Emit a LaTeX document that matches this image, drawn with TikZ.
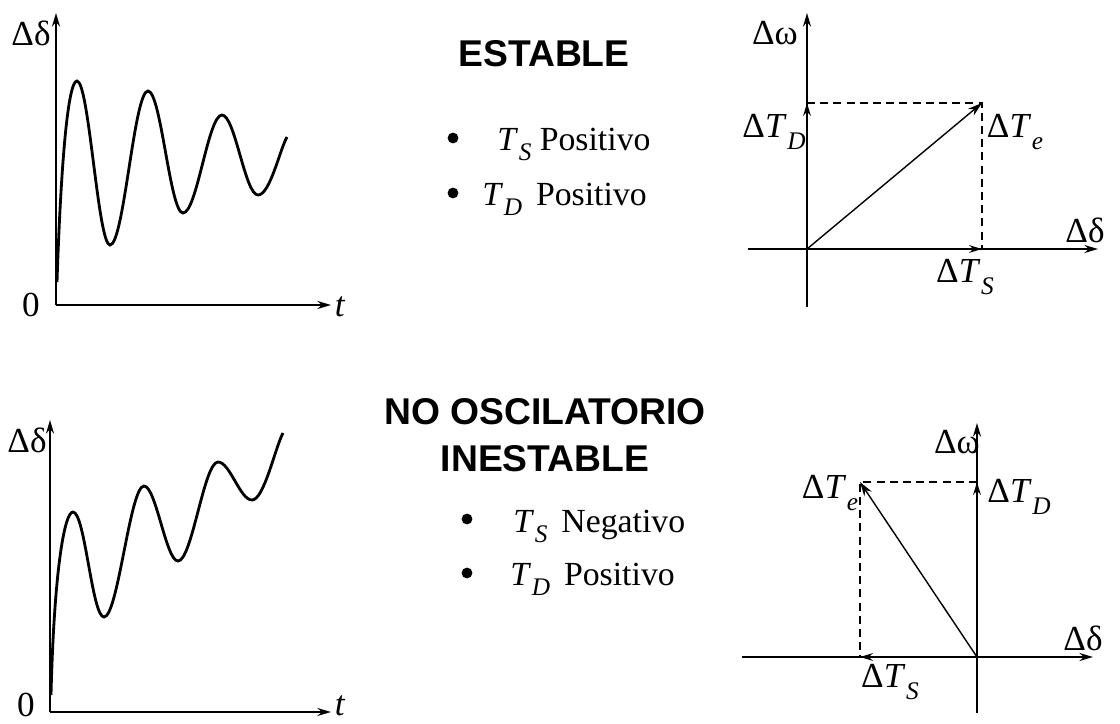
\documentclass[tikz,border=0pt]{standalone}
\usepackage{fontspec}
\setmainfont{Liberation Serif}
\newfontfamily\headfont{Liberation Sans}
\usetikzlibrary{arrows.meta}
\newcommand{\Tsub}[1]{\textit{T}\kern0.5pt\raisebox{-0.32em}{\fontsize{18}{18}\selectfont\textit{#1}}}

\begin{document}
\begin{tikzpicture}[x=0.025cm,y=-0.025cm,lbl/.style={inner sep=0pt,font=\fontsize{25}{28}\selectfont},head/.style={align=center,font=\headfont\bfseries\fontsize{26.5}{33}\selectfont},item/.style={anchor=base west,inner sep=0pt,font=\fontsize{24}{28}\selectfont},dot/.style={circle,fill,inner sep=0pt,minimum size=2.7mm},axis/.style={line width=1.4pt,-{Stealth[length=3.4mm,width=2mm]}},curve/.style={line width=2pt},vec/.style={line width=1pt,-{Stealth[length=3.6mm,width=2.2mm]}},comp/.style={line width=1.5pt,-{Stealth[length=3.2mm,width=1.9mm]}},proj/.style={line width=1.5pt,dash pattern=on 2mm off 1.3mm}]
\useasboundingbox (0,0) rectangle (1120,724);
% stable case: time response
\coordinate (o1) at (56,305);\coordinate (ya1) at (56,13);\coordinate (xa1) at (331,305);
\draw[axis] (o1)--(ya1);\draw[axis] (o1)--(xa1);
\node[lbl] (dd1) at (31,33) {Δδ};
\node[lbl] (zero1) at (31,305) {0};
\node[lbl] (t1) at (340,307) {\textit{t}};
\draw[curve] (57,282) .. controls +(4,-120) and +(-9,0) .. (77,81) .. controls +(12,0) and +(-12,0) .. (110,245) .. controls +(14,0) and +(-14,0) .. (148,91) .. controls +(13,0) and +(-13,0) .. (183,213) .. controls +(14,0) and +(-14,0) .. (222,115) .. controls +(13,0) and +(-13,0) .. (258,195) .. controls +(12,0) and +(-7,12) .. (287,137);
% stable case: text
\node[head] (stable) at (544,54) {ESTABLE};
\node[dot] (b1) at (453,138) {};
\node[item] (ts1) at (497,150) {\Tsub{S} Positivo};
\node[dot] (b2) at (453,193) {};
\node[item] (td1) at (482,205) {\Tsub{D}\,\ Positivo};
% stable case: phasors
\coordinate (p1) at (807,249);
\coordinate (hl1) at (748,249);\coordinate (hr1) at (1098,249);
\coordinate (vb1) at (807,307);\coordinate (vt1) at (807,13);
\coordinate (te1) at (982,103);\coordinate (cd1) at (807,103);\coordinate (cs1) at (982,249);
\draw[axis] (hl1)--(hr1);\draw[axis] (vb1)--(vt1);
\draw[proj] (cd1)--(te1)--(cs1);
\draw[comp] (p1)--(cd1);\draw[comp] (p1)--(cs1);
\draw[vec] (p1)--(te1);
\node[lbl] (w1) at (775,33) {Δω};
\node[lbl] (dr1) at (1085,230) {Δδ};
\node[lbl] (ltd1) at (774,132) {Δ\Tsub{D}};
\node[lbl] (lte1) at (1015,132) {Δ\Tsub{e}};
\node[lbl] (lts1) at (965,277) {Δ\Tsub{S}};
% unstable case: time response
\coordinate (o2) at (50,712);\coordinate (ya2) at (50,420);\coordinate (xa2) at (331,712);
\draw[axis] (o2)--(ya2);\draw[axis] (o2)--(xa2);
\node[lbl] (dd2) at (27,440) {Δδ};
\node[lbl] (zero2) at (26,705) {0};
\node[lbl] (t2) at (340,706) {\textit{t}};
\draw[curve] (51,695) .. controls +(3,-120) and +(-9,0) .. (73,512) .. controls +(12,0) and +(-12,0) .. (104,617) .. controls +(14,0) and +(-14,0) .. (144,486) .. controls +(12,0) and +(-12,0) .. (178,561) .. controls +(14,0) and +(-14,0) .. (218,462) .. controls +(12,0) and +(-12,0) .. (252,500) .. controls +(12,0) and +(-8,15) .. (283,433);
% unstable case: text
\node[head] (unstable) at (545,435) {NO OSCILATORIO\\INESTABLE};
\node[dot] (b3) at (467,519) {};
\node[item] (ts2) at (513,532) {\Tsub{S}\,\ Negativo};
\node[dot] (b4) at (467,573) {};
\node[item] (td2) at (510,585) {\Tsub{D}\,\ Positivo};
% unstable case: phasors
\coordinate (p2) at (977,657);
\coordinate (hl2) at (742,657);\coordinate (hr2) at (1093,657);
\coordinate (vb2) at (977,713);\coordinate (vt2) at (977,423);
\coordinate (te2) at (860,482);\coordinate (cd2) at (977,482);\coordinate (cs2) at (860,657);
\draw[axis] (hl2)--(hr2);\draw[axis] (vb2)--(vt2);
\draw[proj] (cd2)--(te2)--(cs2);
\draw[comp] (p2)--(cd2);\draw[comp] (p2)--(cs2);
\draw[vec] (p2)--(te2);
\node[lbl] (w2) at (957,442) {Δω};
\node[lbl] (dr2) at (1083,638) {Δδ};
\node[lbl] (ltd2) at (1019,497) {Δ\Tsub{D}};
\node[lbl] (lte2) at (830,493) {Δ\Tsub{e}};
\node[lbl] (lts2) at (890,682) {Δ\Tsub{S}};
\end{tikzpicture}
\end{document}
